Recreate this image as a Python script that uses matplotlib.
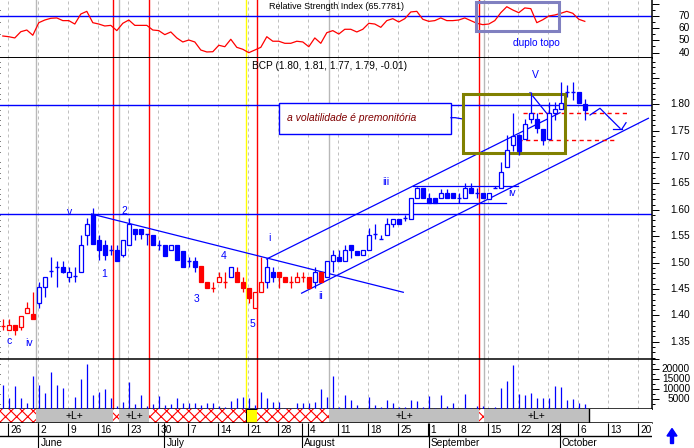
import matplotlib
matplotlib.use("Agg")
import matplotlib.pyplot as plt
from matplotlib.patches import Rectangle, Polygon
from matplotlib.ticker import FixedLocator
from matplotlib.transforms import IdentityTransform

plt.rcParams["font.family"] = ["Liberation Sans", "DejaVu Sans"]
plt.rcParams["hatch.color"] = "#ff0000"
plt.rcParams["hatch.linewidth"] = 0.8

# =============================================================================
# DATA (one entry per trading day, 23 May .. 7 Oct)
# =============================================================================
ticker = "BCP"
rsi_last = 65.7781
last_bar = (1.80, 1.81, 1.77, 1.79, -0.01)

opens = [1.380, 1.373, 1.381, 1.378, 1.404, 1.403, 1.423, 1.453, 1.484, 1.492,
         1.492, 1.472, 1.474, 1.482, 1.552, 1.593, 1.543, 1.533, 1.524, 1.524,
         1.514, 1.533, 1.563, 1.563, 1.554, 1.552, 1.533, 1.533, 1.524, 1.533,
         1.5225, 1.503, 1.503, 1.493, 1.4625, 1.4525, 1.464, 1.464, 1.472, 1.482,
         1.4625, 1.451, 1.413, 1.4435, 1.464, 1.482, 1.482, 1.472, 1.464, 1.464,
         1.472, 1.472, 1.4625, 1.4828, 1.472, 1.503, 1.511, 1.503, 1.533, 1.5225,
         1.5145, 1.524, 1.554, 1.544, 1.552, 1.573, 1.583, 1.584, 1.583, 1.622,
         1.642, 1.623, 1.623, 1.623, 1.632, 1.632, 1.623, 1.623, 1.641, 1.632,
         1.632, 1.620, 1.641, 1.642, 1.682, 1.723, 1.742, 1.734, 1.773, 1.772,
         1.7525, 1.734, 1.783, 1.792, 1.823, 1.823, 1.823, 1.80]
highs = [1.393, 1.394, 1.381, 1.399, 1.425, 1.444, 1.464, 1.472, 1.511, 1.503,
         1.503, 1.492, 1.492, 1.552, 1.584, 1.603, 1.552, 1.543, 1.533, 1.533,
         1.543, 1.584, 1.563, 1.563, 1.554, 1.552, 1.543, 1.533, 1.533, 1.533,
         1.5225, 1.511, 1.511, 1.493, 1.4625, 1.4625, 1.482, 1.482, 1.492, 1.492,
         1.472, 1.451, 1.4435, 1.511, 1.508, 1.492, 1.482, 1.472, 1.474, 1.482,
         1.482, 1.472, 1.492, 1.4828, 1.503, 1.524, 1.524, 1.533, 1.533, 1.5225,
         1.524, 1.565, 1.573, 1.5525, 1.584, 1.583, 1.583, 1.590, 1.622, 1.644,
         1.642, 1.632, 1.623, 1.640, 1.640, 1.632, 1.632, 1.651, 1.650, 1.641,
         1.632, 1.632, 1.645, 1.691, 1.742, 1.784, 1.744, 1.772, 1.824, 1.783,
         1.7525, 1.805, 1.805, 1.843, 1.836, 1.843, 1.823, 1.81]
lows = [1.372, 1.372, 1.363, 1.373, 1.404, 1.394, 1.413, 1.434, 1.473, 1.453,
        1.480, 1.464, 1.464, 1.482, 1.533, 1.535, 1.505, 1.505, 1.514, 1.503,
        1.511, 1.533, 1.543, 1.544, 1.533, 1.533, 1.524, 1.513, 1.524, 1.505,
        1.492, 1.492, 1.483, 1.464, 1.4525, 1.4435, 1.464, 1.4525, 1.472, 1.4625,
        1.4435, 1.4225, 1.413, 1.4435, 1.4525, 1.464, 1.4525, 1.4625, 1.4525, 1.464,
        1.4625, 1.4525, 1.4525, 1.464, 1.472, 1.483, 1.503, 1.503, 1.509, 1.5145,
        1.5145, 1.524, 1.544, 1.544, 1.552, 1.567, 1.573, 1.578, 1.583, 1.622,
        1.623, 1.612, 1.6135, 1.623, 1.623, 1.623, 1.613, 1.623, 1.632, 1.623,
        1.623, 1.620, 1.641, 1.642, 1.682, 1.712, 1.7035, 1.734, 1.764, 1.745,
        1.723, 1.732, 1.770, 1.792, 1.813, 1.808, 1.803, 1.77]
closes = [1.380, 1.382, 1.373, 1.399, 1.413, 1.394, 1.453, 1.472, 1.484, 1.492,
          1.483, 1.482, 1.474, 1.533, 1.573, 1.535, 1.524, 1.514, 1.524, 1.503,
          1.543, 1.574, 1.554, 1.554, 1.554, 1.533, 1.533, 1.513, 1.533, 1.505,
          1.492, 1.503, 1.492, 1.464, 1.4525, 1.4525, 1.472, 1.464, 1.492, 1.4625,
          1.4525, 1.432, 1.4435, 1.4625, 1.492, 1.4735, 1.472, 1.4625, 1.464, 1.472,
          1.472, 1.4525, 1.4828, 1.464, 1.503, 1.514, 1.503, 1.524, 1.524, 1.5145,
          1.524, 1.552, 1.554, 1.544, 1.573, 1.583, 1.573, 1.584, 1.622, 1.642,
          1.623, 1.6135, 1.6135, 1.632, 1.623, 1.623, 1.623, 1.642, 1.632, 1.632,
          1.623, 1.632, 1.641, 1.672, 1.713, 1.740, 1.712, 1.762, 1.783, 1.7545,
          1.732, 1.783, 1.792, 1.802, 1.823, 1.823, 1.803, 1.79]
candle_colors = "rrrrrr" + "b" * 27 + "rrrrr" + "b" + "rrrrr" + "bb" + "rrrrrr" + "b" + "r" + "b" * 44

volume = [12167, 5833, 11667, 5833, 3333, 16667, 12333, 8167, 18833, 12333,
          10667, 500, 6167, 15333, 22667, 7167, 8833, 10333, 5833, 1833,
          3833, 13833, 2833, 7167, 1833, 2667, 6667, 2167, 2667, 5667,
          3333, 3333, 3333, 2167, 3000, 3333, 1667, 1167, 4333, 5833,
          6333, 5667, 2167, 8833, 5833, 3500, 3500, 833, 833, 3333,
          3333, 3333, 3833, 10333, 6167, 16667, 1167, 7333, 4667, 2167,
          300, 6333, 2167, 1333, 4667, 3333, 1167, 1333, 4667, 4167,
          1333, 6667, 833, 7167, 1833, 3333, 300, 7667, 833, 1833,
          1833, 833, 1333, 10667, 14333, 22167, 7667, 7167, 8167, 5667,
          5500, 5833, 11667, 11000, 4667, 5333, 3333, 2667]

rsi = [53.6, 53.0, 52.0, 57.1, 58.5, 54.2, 64.5, 66.7, 68.1, 68.4,
       66.2, 66.2, 63.4, 71.6, 73.8, 64.5, 63.4, 61.8, 62.3, 58.0,
       64.0, 66.7, 62.3, 62.3, 62.3, 58.5, 58.0, 54.7, 56.9, 52.0,
       48.7, 50.3, 48.7, 42.1, 40.5, 40.7, 46.0, 44.8, 50.9, 44.3,
       42.7, 39.9, 42.1, 44.3, 53.0, 49.3, 49.3, 47.6, 47.6, 49.3,
       48.7, 44.8, 52.0, 47.6, 56.3, 58.0, 55.2, 59.1, 59.1, 56.9,
       59.1, 64.0, 63.4, 60.7, 66.2, 67.8, 65.1, 67.8, 73.3, 73.8,
       67.3, 65.6, 66.2, 68.4, 66.2, 66.2, 66.7, 68.4, 66.2, 64.0,
       62.9, 63.4, 66.2, 72.7, 77.6, 74.9, 72.7, 76.6, 76.0, 64.5,
       66.9, 70.0, 70.8, 72.2, 73.8, 72.2, 67.3, 65.6]

day_labels = ["26", "2", "9", "16", "23", "30", "7", "14", "21", "28", "4",
              "11", "18", "25", "1", "8", "15", "22", "29", "6", "13", "20"]
month_labels = ["June", "July", "August", "September", "October"]
month_starts = [5.92, 26.92, 49.92, 70.98, 92.82]

# +L+ band segments (start positions, kind of each segment)
band_edges = [-0.47, 5.48, 18.42, 19.37, 24.42, 40.48, 42.42, 54.42, 79.32, 80.2, 97.75]
band_kinds = ["hatch", "L", "hatch", "L", "hatch", "yellow", "hatch", "L", "hatch", "L"]

# =============================================================================
# LAYOUT (pixel based)
# =============================================================================
W, H, DPI = 694, 448, 100
RIGHT = 652
XMIN, XMAX = -0.467, 108.2
BLUE, RED = "#0000ff", "#ff0000"
GRID = "#c0c0c0"
FS = 7.3

fig = plt.figure(figsize=(W / DPI, H / DPI), dpi=DPI)
fig.patch.set_facecolor("white")


def px_axes(top, bottom):
    return fig.add_axes([0, 1 - bottom / H, RIGHT / W, (bottom - top) / H])


ax_rsi = px_axes(0, 57.7)
ax_p = px_axes(57.7, 358.5)
ax_v = px_axes(359.3, 409.3)
ax_b = px_axes(409.3, 423.3)
ax_d = px_axes(423.3, 448)

for ax in (ax_rsi, ax_p, ax_v, ax_b, ax_d):
    ax.set_xlim(XMIN, XMAX)
    for s in ax.spines.values():
        s.set_visible(False)
    ax.tick_params(axis="x", bottom=False, labelbottom=False)
    ax.tick_params(axis="y", left=False, labelleft=False)

for ax in (ax_rsi, ax_p, ax_v):
    ax.spines["right"].set_visible(True)
    ax.spines["right"].set_linewidth(1.1)
    ax.tick_params(axis="y", which="both", right=True, labelright=False,
                   direction="out", width=0.72, color="black")
    ax.tick_params(axis="y", which="major", length=4.8)
    ax.tick_params(axis="y", which="minor", length=2.4)
ax_rsi.spines["bottom"].set_visible(True)
ax_rsi.spines["bottom"].set_linewidth(1.4)
ax_v.spines["top"].set_visible(True)
ax_v.spines["top"].set_linewidth(1.1)
ax_v.spines["bottom"].set_visible(True)
ax_v.spines["bottom"].set_linewidth(1.1)
ax_b.spines["bottom"].set_visible(True)
ax_b.spines["bottom"].set_linewidth(1.1)

LABEL_X = 690 / RIGHT


def right_labels(ax, values, fmt):
    tr = ax.get_yaxis_transform()
    for v in values:
        ax.text(LABEL_X, v, fmt(v), transform=tr, ha="right", va="center",
                fontsize=FS, color="black")


n = len(closes)
xs = list(range(n))
week_pos = [0.92 + 5 * k for k in range(len(day_labels))]

# --- vertical guides shared by the three panels ---
line_colors = {"hatch": RED, "L": "#b8b8b8", "yellow": "#ffff00"}
for ax in (ax_rsi, ax_p, ax_v):
    for wp in week_pos:
        ax.axvline(wp, color=GRID, lw=0.72, ls=(0, (3, 3)), zorder=0)
    for pos, kind in zip(band_edges[1:-1], band_kinds[1:]):
        ax.axvline(pos, color=line_colors[kind], lw=1.0, zorder=1)

# =============================================================================
# RSI PANEL
# =============================================================================
ax_rsi.set_ylim(35.8, 83.1)
ax_rsi.axhline(70, color=BLUE, lw=1.0, zorder=2)
ax_rsi.plot(xs, rsi, color=RED, lw=0.9, zorder=3)
ax_rsi.yaxis.set_major_locator(FixedLocator([40, 50, 60, 70, 80]))
ax_rsi.yaxis.set_minor_locator(FixedLocator([45, 55, 65, 75]))
right_labels(ax_rsi, [40, 50, 60, 70], lambda v: f"{v:d}")
ax_rsi.text(44.4, 77.4, f"Relative Strength Index ({rsi_last:.4f})",
            fontsize=6.5, ha="left", va="center", color="black")
ax_rsi.add_patch(Rectangle((78.87, 57.95), 13.88, 23.25, fill=False,
                           edgecolor="#8080c0", lw=2.2, zorder=4))
ax_rsi.text(88.9, 48.1, "duplo topo", color=BLUE, fontsize=FS,
            ha="center", va="center")

# =============================================================================
# PRICE PANEL
# =============================================================================
ax_p.set_ylim(1.3182, 1.8883)
ax_p.yaxis.set_major_locator(FixedLocator([1.35 + 0.05 * k for k in range(11)]))
ax_p.yaxis.set_minor_locator(FixedLocator([1.32 + 0.01 * k for k in range(57)]))
right_labels(ax_p, [1.35 + 0.05 * k for k in range(10)], lambda v: f"{v:.2f}")

o, h, l, c = last_bar[:4]
ax_p.text(41.5, 1.8732, f"{ticker} ({o:.2f}, {h:.2f}, {l:.2f}, {c:.2f}, {last_bar[4]:.2f})",
          fontsize=FS, ha="left", va="center", color="black")

# support / resistance lines
ax_p.axhline(1.7987, color=BLUE, lw=1.0, zorder=2)
ax_p.axhline(1.592, color=BLUE, lw=1.0, zorder=2)
ax_p.plot([14.8, 66.75], [1.592, 1.4437], color=BLUE, lw=0.9, zorder=2)
ax_p.plot([49.8, 107.6], [1.442, 1.7735], color=BLUE, lw=0.9, zorder=2)
ax_p.plot([43.98, 92.87], [1.5068, 1.784], color=BLUE, lw=0.9, zorder=2)
ax_p.plot([87.87, 90.65], [1.822, 1.7829], color=BLUE, lw=0.9, zorder=2)
ax_p.plot([68.4, 85.9], [1.645, 1.645], color=BLUE, lw=0.9, zorder=2)
ax_p.plot([68.4, 83.8], [1.6135, 1.6135], color=BLUE, lw=0.9, zorder=2)
ax_p.plot([86.75, 104.25], [1.783, 1.783], color=RED, lw=1.0, ls=(0, (3, 2.5)), zorder=2)
ax_p.plot([85.87, 102.3], [1.732, 1.732], color=RED, lw=1.0, ls=(0, (3, 2.5)), zorder=2)

# projected path
ax_p.plot([97.87, 99.53, 102.87], [1.7797, 1.7924, 1.7545], color=BLUE, lw=0.9, zorder=2)
ax_p.plot([101.75, 103.15], [1.7526, 1.7526], color=BLUE, lw=0.9, zorder=2)
ax_p.plot([103.15, 103.87], [1.7526, 1.7651], color=BLUE, lw=0.9, zorder=2)

# olive box and comment
ax_p.add_patch(Rectangle((76.75, 1.7071), 16.95, 0.1119, fill=False,
                         edgecolor="#808000", lw=2.2, zorder=5))
ax_p.add_patch(Rectangle((46.08, 1.7437), 28.62, 0.0582, facecolor="white",
                         edgecolor=BLUE, lw=1.0, zorder=3))
ax_p.text(47.3, 1.7735, "a volatilidade é premonitória", color="#800000",
          fontsize=7.5, style="italic", ha="left", va="center", zorder=4)
ax_p.plot([74.7, 75.4, 76.75], [1.7746, 1.7746, 1.772], color=BLUE, lw=0.9, zorder=3)

# candles
BODY = 0.62
for i in xs:
    col = BLUE if candle_colors[i] == "b" else RED
    op, hi, lo, cl = opens[i], highs[i], lows[i], closes[i]
    ax_p.vlines(i, lo, hi, color=col, lw=0.9, zorder=6)
    if abs(cl - op) < 1e-9:
        ax_p.hlines(op, i - BODY / 2, i + BODY / 2, color=col, lw=1.0, zorder=7)
    else:
        face = col if cl < op else "white"
        ax_p.add_patch(Rectangle((i - BODY / 2, min(op, cl)), BODY, abs(cl - op),
                                 facecolor=face, edgecolor=col, lw=0.9, zorder=7))

# Elliott wave labels
waves = [("c", 1.03, 1.3511), ("iv", 4.42, 1.3481), ("v", 11.08, 1.5964),
         ("1", 16.92, 1.4777), ("2", 20.25, 1.5983), ("3", 32.32, 1.4303),
         ("4", 36.87, 1.5130), ("5", 41.58, 1.3830), ("i", 44.42, 1.5471),
         ("ii", 52.98, 1.4366), ("iii", 63.87, 1.6533), ("iv", 84.92, 1.6313),
         ("V", 88.7, 1.8555)]
for txt, xw, yw in waves:
    ax_p.text(xw, yw, txt, color=BLUE, fontsize=7.5, ha="center", va="center", zorder=8)

# =============================================================================
# VOLUME PANEL
# =============================================================================
ax_v.set_ylim(0, 25000)
ax_v.vlines(xs, 0, volume, color=BLUE, lw=0.9, zorder=3)
ax_v.yaxis.set_major_locator(FixedLocator([5000, 10000, 15000, 20000, 25000]))
ax_v.yaxis.set_minor_locator(FixedLocator([2500, 7500, 12500, 17500, 22500]))
right_labels(ax_v, [5000, 10000, 15000, 20000], lambda v: f"{v:d}")

# =============================================================================
# +L+ BAND
# =============================================================================
ax_b.set_ylim(0, 1)
for x0, x1, kind in zip(band_edges[:-1], band_edges[1:], band_kinds):
    if kind == "hatch":
        ax_b.add_patch(Rectangle((x0, 0), x1 - x0, 1, facecolor="white",
                                 edgecolor=RED, hatch="xxx", lw=0))
    elif kind == "yellow":
        ax_b.add_patch(Rectangle((x0, 0), x1 - x0, 1, facecolor="#ffff00",
                                 edgecolor="black", lw=0.7))
    else:
        ax_b.add_patch(Rectangle((x0, 0), x1 - x0, 1, facecolor="#c0c0c0", lw=0))
        ax_b.text((x0 + x1) / 2, 0.5, "+L+", fontsize=7.5, ha="center", va="center")
ax_b.axvline(band_edges[-1], color="black", lw=1.0)

# =============================================================================
# DATE AXIS
# =============================================================================
ax_d.set_ylim(448, 423.3)
ax_d.axhline(436.3, color="black", lw=1.0)
ax_d.vlines(week_pos, 423.3, 436.3, color="black", lw=0.8)
for wp, lab in zip(week_pos, day_labels):
    ax_d.text(wp + 0.3, 429.9, lab, fontsize=FS, ha="left", va="center")
ax_d.vlines(month_starts, 423.3, 448, color="black", lw=0.8)
for mp, lab in zip(month_starts, month_labels):
    ax_d.text(mp + 0.35, 442.6, lab, fontsize=FS, ha="left", va="center")

# blue arrow, bottom right (display pixels)
arrow = [(667, 12), (672, 19.5), (677, 12), (673.5, 12), (673.5, 4.5), (670.5, 4.5), (670.5, 12)]
fig.add_artist(Polygon(arrow, closed=True, color=BLUE, transform=IdentityTransform()))

fig.savefig("out.png", dpi=DPI, facecolor="white")
